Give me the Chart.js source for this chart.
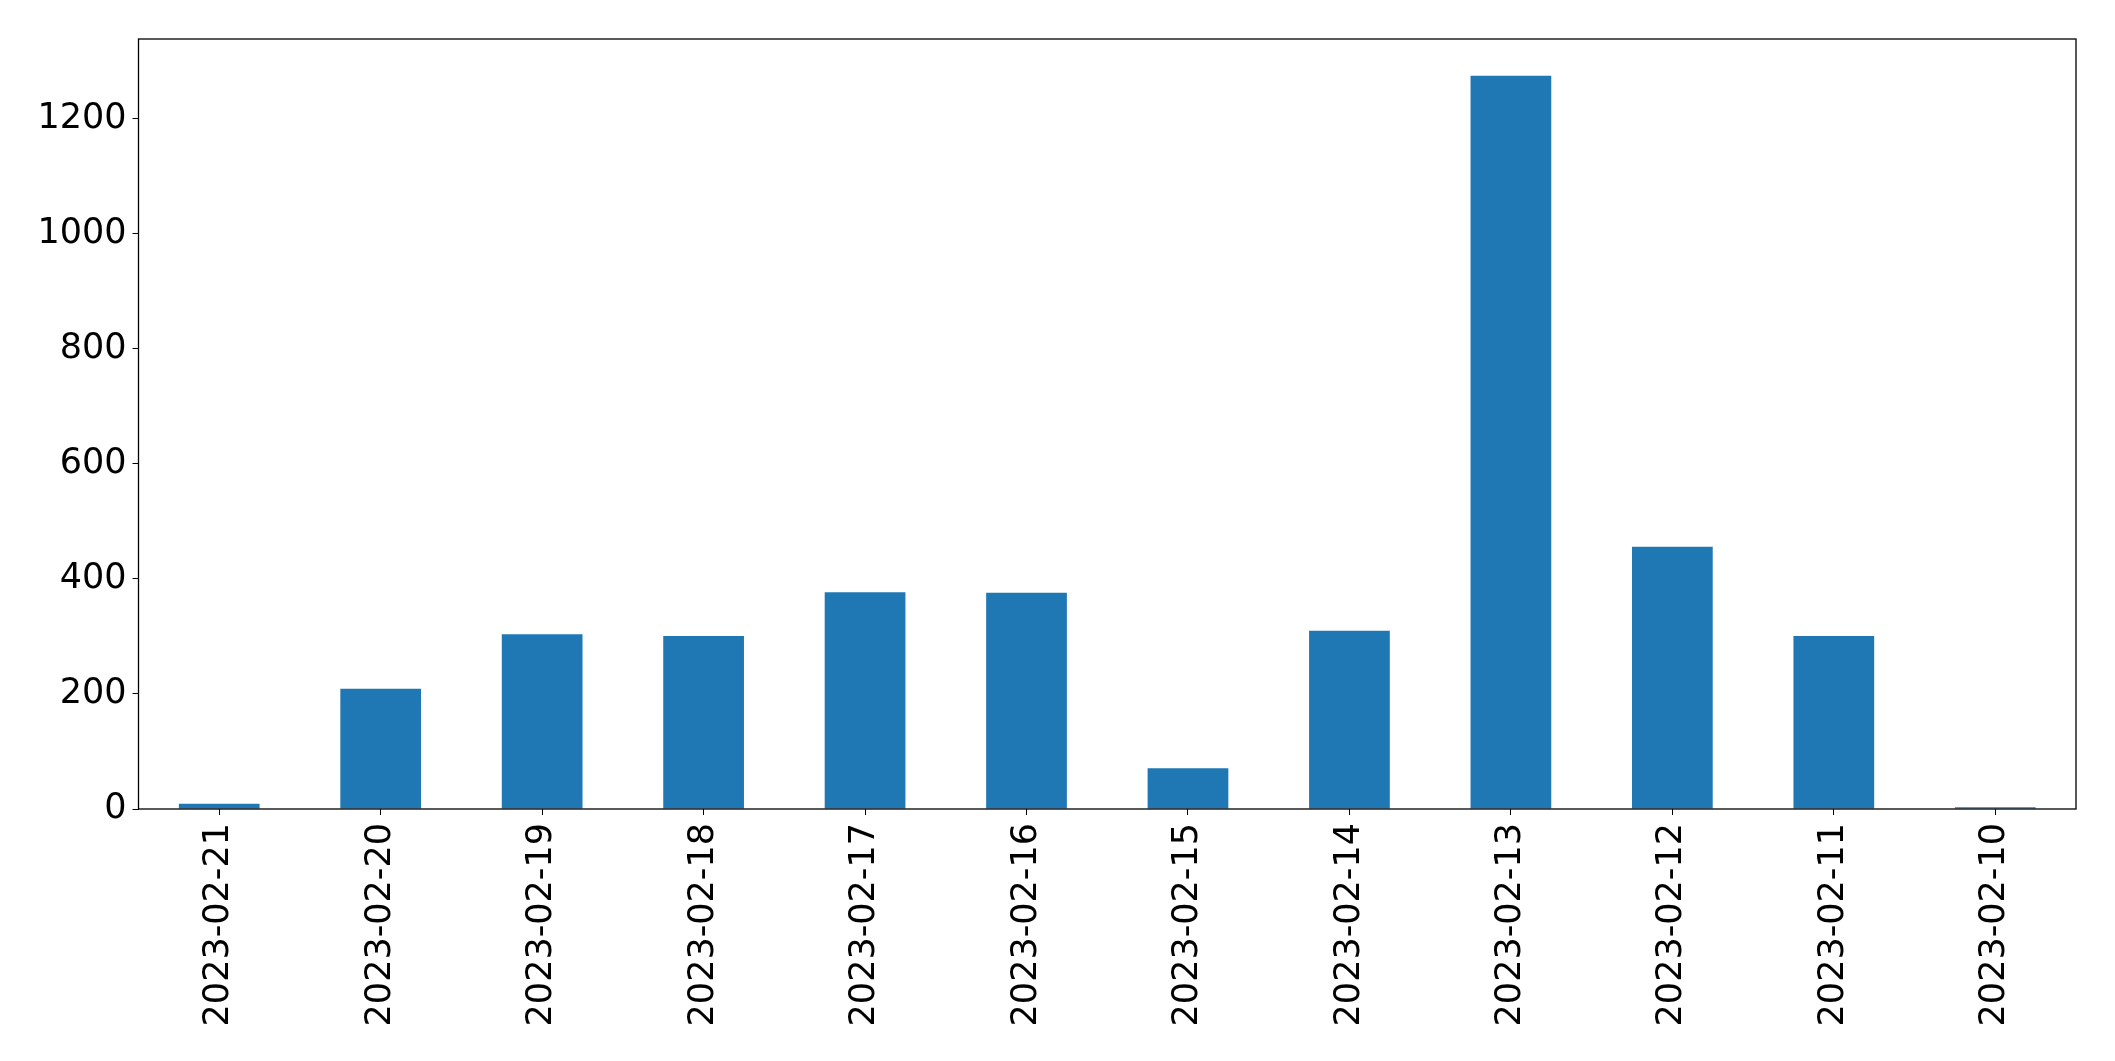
<!DOCTYPE html>
<html>
<head>
<meta charset="utf-8">
<script src="https://cdn.jsdelivr.net/npm/chart.js@4/dist/chart.umd.min.js"></script>
<style>
  body { margin: 0; background: #fff; }
</style>
</head>
<body>
<canvas id="DailyBarChart" width="2115" height="1061"></canvas>
<script>
// data
var dates = ['2023-02-21', '2023-02-20', '2023-02-19', '2023-02-18', '2023-02-17', '2023-02-16',
             '2023-02-15', '2023-02-14', '2023-02-13', '2023-02-12', '2023-02-11', '2023-02-10'];
var counts = [9, 209, 304, 301, 377, 376, 71, 310, 1275, 456, 301, 3];
var y_max = 1339;
var y_step = 200;

// black box round the plot, like the matplotlib axes frame
var frame = {
  id: 'frame',
  afterDraw: function(chart) {
    var a = chart.chartArea, c = chart.ctx;
    c.save();
    c.strokeStyle = '#000';
    c.lineWidth = 1.3;
    c.strokeRect(a.left, a.top, a.right - a.left, a.bottom - a.top);
    c.restore();
  }
};

var ctx = document.getElementById("DailyBarChart");
var myBarChart = new Chart(ctx, {
  type: 'bar',
  data: {
    labels: dates,
    datasets: [{
      data: counts,
      backgroundColor: '#1f77b4',
      barPercentage: 0.5,
      categoryPercentage: 1.0
    }]
  },
  options: {
    responsive: false,
    animation: false,
    layout: { padding: { left: 0, top: 39, right: 39, bottom: 0 } },
    plugins: { legend: { display: false }, tooltip: { enabled: false } },
    scales: {
      x: {
        offset: true,
        grid: { display: true, offset: false, drawOnChartArea: false, drawTicks: true, tickLength: 6, color: '#000' },
        border: { display: false },
        ticks: {
          color: '#000', maxRotation: 90, minRotation: 90, padding: 8, autoSkip: false,
          font: { family: 'DejaVu Sans', size: 35 }
        },
        afterFit: function(scale) { scale.height = 252; }
      },
      y: {
        min: 0,
        max: y_max,
        grid: { display: true, drawOnChartArea: false, drawTicks: true, tickLength: 6, color: '#000' },
        border: { display: false },
        ticks: {
          stepSize: y_step, includeBounds: false, color: '#000', padding: 6,
          font: { family: 'DejaVu Sans', size: 35 },
          callback: function(v) { return String(v); }
        },
        afterFit: function(scale) { scale.width = 138.5; }
      }
    }
  },
  plugins: [frame]
});
</script>
</body>
</html>
